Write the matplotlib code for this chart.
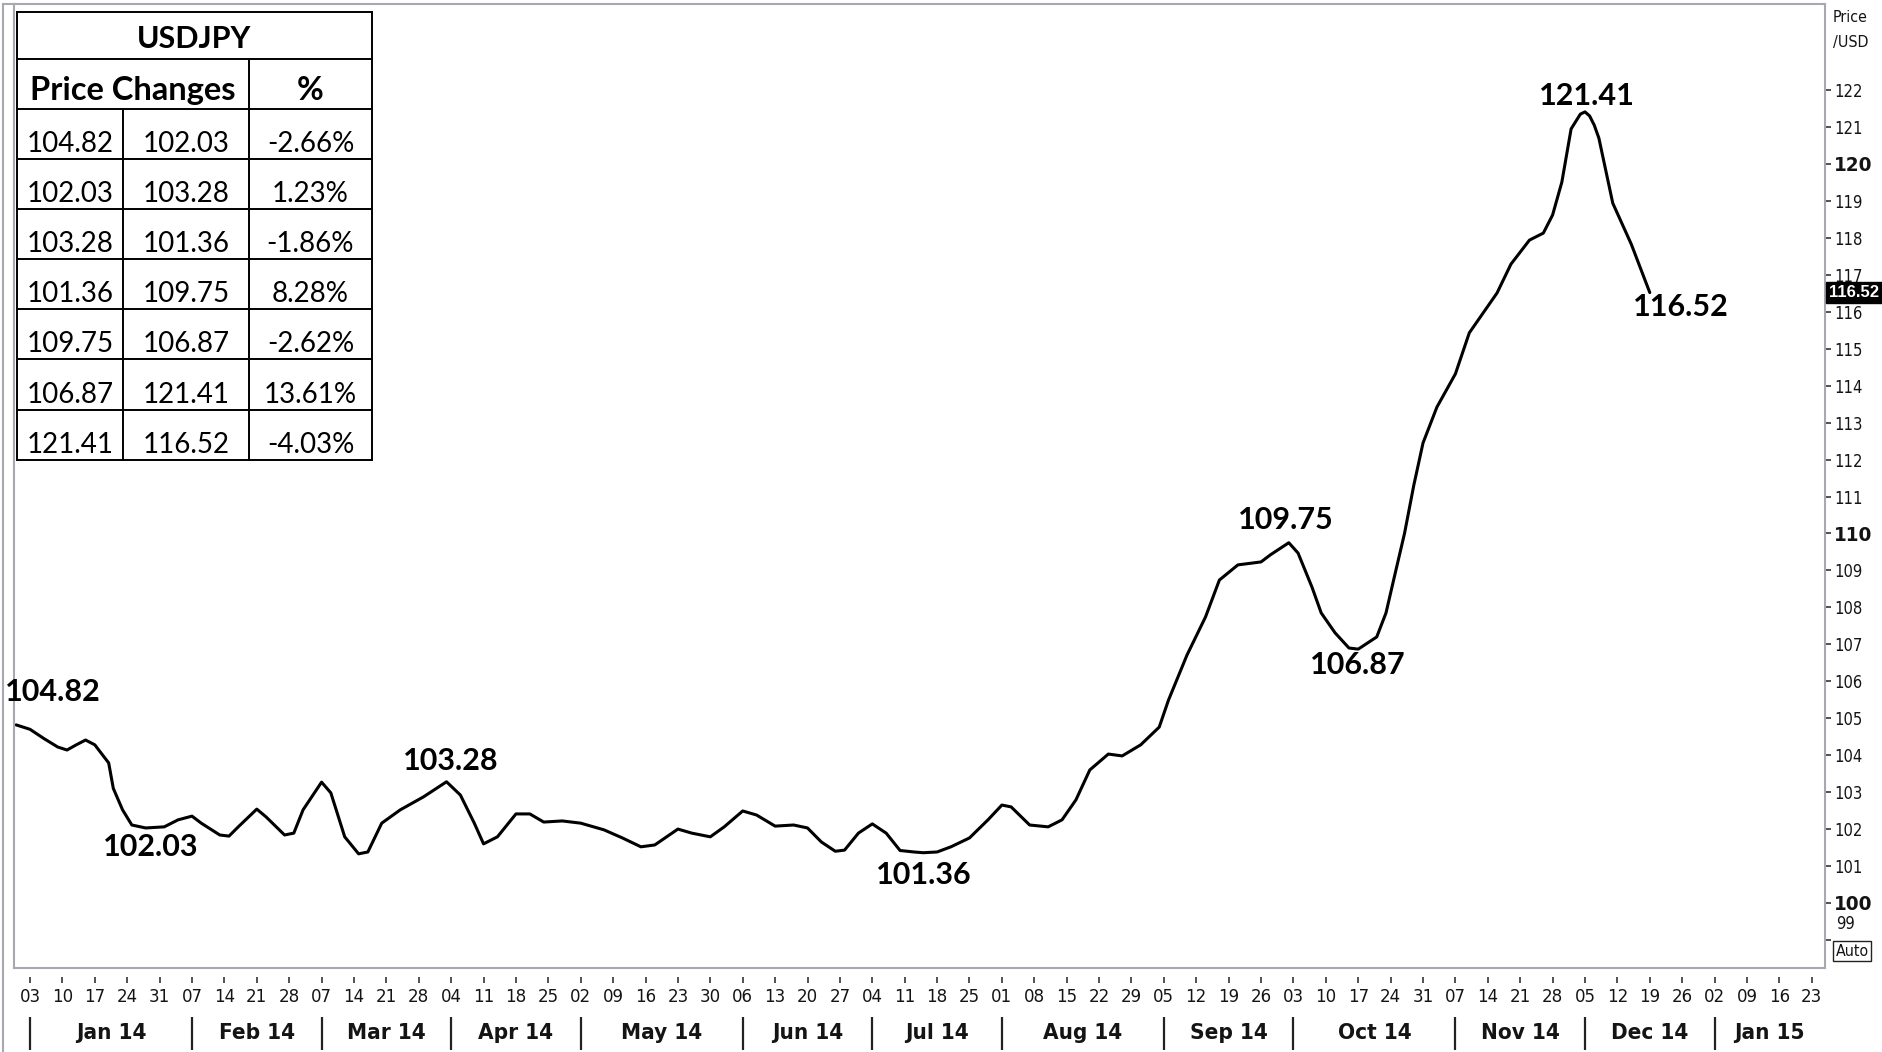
import datetime as dt

import matplotlib

matplotlib.use("Agg")
import matplotlib.dates as mdates
import matplotlib.pyplot as plt
import matplotlib.transforms as mtransforms
from matplotlib import font_manager
from matplotlib.lines import Line2D

# USDJPY closing prices, end of 2013 to mid December 2014
dates = [
    "2013-12-31", "2014-01-03", "2014-01-06", "2014-01-09", "2014-01-11", "2014-01-13",
    "2014-01-15", "2014-01-17", "2014-01-20", "2014-01-21", "2014-01-23", "2014-01-25",
    "2014-01-28", "2014-02-01", "2014-02-04", "2014-02-07", "2014-02-09", "2014-02-13",
    "2014-02-15", "2014-02-17", "2014-02-21", "2014-02-23", "2014-02-27", "2014-03-01",
    "2014-03-03", "2014-03-07", "2014-03-09", "2014-03-12", "2014-03-15", "2014-03-17",
    "2014-03-20", "2014-03-24", "2014-03-29", "2014-04-03", "2014-04-06", "2014-04-09",
    "2014-04-11", "2014-04-14", "2014-04-18", "2014-04-21", "2014-04-24", "2014-04-28",
    "2014-05-02", "2014-05-07", "2014-05-11", "2014-05-15", "2014-05-18", "2014-05-23",
    "2014-05-26", "2014-05-30", "2014-06-02", "2014-06-06", "2014-06-09", "2014-06-13",
    "2014-06-17", "2014-06-20", "2014-06-23", "2014-06-26", "2014-06-28", "2014-07-01",
    "2014-07-04", "2014-07-07", "2014-07-10", "2014-07-13", "2014-07-15", "2014-07-18",
    "2014-07-21", "2014-07-25", "2014-07-29", "2014-08-01", "2014-08-03", "2014-08-07",
    "2014-08-11", "2014-08-14", "2014-08-17", "2014-08-20", "2014-08-24", "2014-08-27",
    "2014-08-31", "2014-09-04", "2014-09-06", "2014-09-10", "2014-09-14", "2014-09-17",
    "2014-09-21", "2014-09-26", "2014-09-28", "2014-10-02", "2014-10-04", "2014-10-07",
    "2014-10-09", "2014-10-12", "2014-10-15", "2014-10-17", "2014-10-21", "2014-10-23",
    "2014-10-25", "2014-10-27", "2014-10-29", "2014-10-31", "2014-11-03", "2014-11-07",
    "2014-11-10", "2014-11-16", "2014-11-19", "2014-11-23", "2014-11-26", "2014-11-28",
    "2014-11-30", "2014-12-02", "2014-12-03", "2014-12-04", "2014-12-05", "2014-12-06",
    "2014-12-07", "2014-12-08", "2014-12-11", "2014-12-15", "2014-12-19",
]
prices = [
    104.82, 104.70, 104.45, 104.22, 104.14, 104.28,
    104.41, 104.28, 103.79, 103.10, 102.52, 102.11,
    102.03, 102.06, 102.25, 102.35, 102.16, 101.84,
    101.81, 102.06, 102.54, 102.33, 101.84, 101.89,
    102.52, 103.27, 102.98, 101.79, 101.33, 101.38,
    102.16, 102.52, 102.87, 103.28, 102.92, 102.16,
    101.60, 101.79, 102.41, 102.41, 102.19, 102.22,
    102.16, 101.98, 101.76, 101.52, 101.57, 102.00,
    101.89, 101.79, 102.06, 102.49, 102.38, 102.08,
    102.11, 102.03, 101.65, 101.40, 101.43, 101.89,
    102.14, 101.89, 101.42, 101.38, 101.36, 101.38,
    101.52, 101.76, 102.25, 102.65, 102.60, 102.11,
    102.06, 102.25, 102.79, 103.60, 104.03, 103.98,
    104.28, 104.76, 105.49, 106.71, 107.74, 108.74,
    109.15, 109.23, 109.42, 109.75, 109.47, 108.55,
    107.85, 107.31, 106.90, 106.87, 107.20, 107.85,
    108.93, 110.00, 111.30, 112.45, 113.42, 114.32,
    115.43, 116.51, 117.29, 117.94, 118.13, 118.62,
    119.51, 120.95, 121.15, 121.35, 121.41, 121.30,
    121.05, 120.70, 118.94, 117.83, 116.52,
]

# swing highs / lows used for the price change table
swing_dates = [
    "2013-12-31", "2014-01-28", "2014-04-03", "2014-07-15",
    "2014-10-02", "2014-10-17", "2014-12-05", "2014-12-19",
]
swing_offsets = [(37, 33), (5, -19), (4, 21), (1, -22), (-3, 23), (0, -16), (2, 16), (31, -14)]

y_ticks = list(range(99, 123))
last_price = prices[-1]

W, H = 1882, 1052
GRAY = "#a8a8b0"
INK = "#141414"
TABLE_FONT = "Lato"

# axis text is set in a narrow face when one is installed
fonts = font_manager.fontManager.ttflist
if any(f.name == "Liberation Sans Narrow" for f in fonts):
    AXIS_FONT = dict(family="Liberation Sans Narrow")
    size_k = 1.0
elif any(f.name == "DejaVu Sans" and f.stretch == "condensed" for f in fonts):
    AXIS_FONT = dict(family="DejaVu Sans", fontstretch="condensed")
    size_k = 0.95
else:
    AXIS_FONT = dict(family="Liberation Sans")
    size_k = 0.86


def fx(x):
    return x / W


def fy(y):
    return 1 - y / H


def to_dt(s):
    return dt.datetime.strptime(s, "%Y-%m-%d")


x = [to_dt(d) for d in dates]
price_by_date = dict(zip(dates, prices))
swing_prices = [price_by_date[d] for d in swing_dates]

fig = plt.figure(figsize=(W / 100, H / 100), dpi=100)
ax = fig.add_axes([fx(14), fy(968), fx(1825) - fx(14), fy(4) - fy(968)])

ax.plot(x, prices, color="black", linewidth=2.2, solid_joinstyle="round", solid_capstyle="round")

base = dt.datetime(2014, 1, 3)
ax.set_xlim(base - dt.timedelta(days=3.46), base + dt.timedelta(days=387.86))
ax.set_ylim(98.24, 124.33)

for spine in ax.spines.values():
    spine.set_color(GRAY)
    spine.set_linewidth(1.5)

# outer frame line on the far left and along the top
fig.add_artist(Line2D([fx(3), fx(3)], [0, fy(4)], color=GRAY, linewidth=1.5))
fig.add_artist(Line2D([fx(3), fx(14)], [fy(4), fy(4)], color=GRAY, linewidth=1.5))

# right price scale
ax.yaxis.tick_right()
ax.set_yticks(y_ticks)
ax.set_yticklabels(["" if v == 99 else str(v) for v in y_ticks])
ax.tick_params(axis="y", direction="out", length=4.5, width=1.2, color="#333333",
               pad=2, labelsize=12.5 * size_k, labelcolor=INK)
for label in ax.get_yticklabels():
    label.set_fontfamily(AXIS_FONT["family"])
    if "fontstretch" in AXIS_FONT:
        label.set_fontstretch(AXIS_FONT["fontstretch"])
    if label.get_text() in ("100", "110", "120"):
        label.set_fontweight("bold")
        label.set_fontsize(15.5 * size_k)
ax.annotate("99", xy=(1, 99), xycoords=ax.get_yaxis_transform(), xytext=(11, 16),
            textcoords="offset pixels", ha="left", va="center", fontsize=12.5 * size_k,
            color=INK, **AXIS_FONT)
ax.annotate(f"{last_price:.2f}", xy=(1, last_price), xycoords=ax.get_yaxis_transform(),
            xytext=(29, 0), textcoords="offset pixels", ha="center", va="center",
            fontsize=12, fontweight="bold", family="Liberation Sans", color="white", zorder=10,
            bbox=dict(boxstyle="square,pad=0.2", facecolor="black", edgecolor="black"))
fig.text(fx(1833), fy(17), "Price", ha="left", va="center", fontsize=12 * size_k, color=INK,
         **AXIS_FONT)
fig.text(fx(1833), fy(42), "/USD", ha="left", va="center", fontsize=12 * size_k, color=INK,
         **AXIS_FONT)
fig.text(fx(1852), fy(951), "Auto", ha="center", va="center", fontsize=12 * size_k,
         color=INK, bbox=dict(boxstyle="square,pad=0.15", facecolor="white", edgecolor="#222222",
                              linewidth=1.0), **AXIS_FONT)

# weekly date scale, drawn below the frame
ax.set_xticks([])
blend = mtransforms.blended_transform_factory(ax.transData, fig.transFigure)
fridays = [base + dt.timedelta(weeks=i) for i in range(56)]
ax.vlines(fridays, fy(983), fy(977), transform=blend, colors="#333333", linewidth=1.2, clip_on=False)
for day in fridays:
    ax.text(day, fy(997), day.strftime("%d"), transform=blend, ha="center", va="center",
            fontsize=14 * size_k, color=INK, **AXIS_FONT)

month_starts = []
for day in fridays:
    if not month_starts or day.month != month_starts[-1].month:
        month_starts.append(day)
ax.vlines(month_starts, fy(1050), fy(1017), transform=blend, colors="#222222", linewidth=1.6,
          clip_on=False)
x_right = mdates.num2date(ax.get_xlim()[1]).replace(tzinfo=None)
for i, start in enumerate(month_starts):
    end = month_starts[i + 1] if i + 1 < len(month_starts) else x_right
    mid = start + (end - start) / 2
    ax.text(mid, fy(1033), start.strftime("%b %y"), transform=blend, ha="center", va="center",
            fontsize=17 * size_k, fontweight="bold", color=INK, **AXIS_FONT)

# swing labels
for d, p, (dx, dy) in zip(swing_dates, swing_prices, swing_offsets):
    ax.annotate(f"{p:.2f}", xy=(to_dt(d), p), xytext=(dx, dy), textcoords="offset pixels",
                ha="center", va="center", fontsize=22, fontweight="bold", family=TABLE_FONT,
                color="black")

# price change table in the top left corner
t_left, t_right = 17, 372
col_a, col_b = 123, 249
row_edges = [12, 59, 109, 159, 209, 259, 309, 359, 410, 460]


def hline(y, x0=t_left, x1=t_right):
    fig.add_artist(Line2D([fx(x0), fx(x1)], [fy(y), fy(y)], color="black", linewidth=1.4))


def vline(xp, y0, y1):
    fig.add_artist(Line2D([fx(xp), fx(xp)], [fy(y0), fy(y1)], color="black", linewidth=1.4))


fig.add_artist(plt.Rectangle((fx(t_left), fy(row_edges[-1])), fx(t_right) - fx(t_left),
                             fy(row_edges[0]) - fy(row_edges[-1]), facecolor="white",
                             edgecolor="none", zorder=0))
for y in row_edges:
    hline(y)
vline(t_left, row_edges[0], row_edges[-1])
vline(t_right, row_edges[0], row_edges[-1])
vline(col_b, row_edges[1], row_edges[-1])
vline(col_a, row_edges[2], row_edges[-1])

fig.text(fx((t_left + t_right) / 2), fy(48), "USDJPY", ha="center", va="baseline",
         fontsize=22, fontweight="bold", family=TABLE_FONT)
fig.text(fx((t_left + col_b) / 2), fy(100), "Price Changes", ha="center", va="baseline",
         fontsize=23.5, fontweight="bold", family=TABLE_FONT)
fig.text(fx((col_b + t_right) / 2), fy(100), "%", ha="center", va="baseline",
         fontsize=23.5, fontweight="bold", family=TABLE_FONT)

for i in range(len(swing_prices) - 1):
    start, end = swing_prices[i], swing_prices[i + 1]
    pct = (end - start) / start * 100
    baseline = row_edges[i + 3] - 7
    cells = [f"{start:.2f}", f"{end:.2f}", f"{pct:.2f}%"]
    centers = [(t_left + col_a) / 2, (col_a + col_b) / 2, (col_b + t_right) / 2]
    for text, cx in zip(cells, centers):
        fig.text(fx(cx), fy(baseline), text, ha="center", va="baseline", fontsize=20,
                 family=TABLE_FONT)

fig.savefig("out.png", dpi=100)
plt.close(fig)
